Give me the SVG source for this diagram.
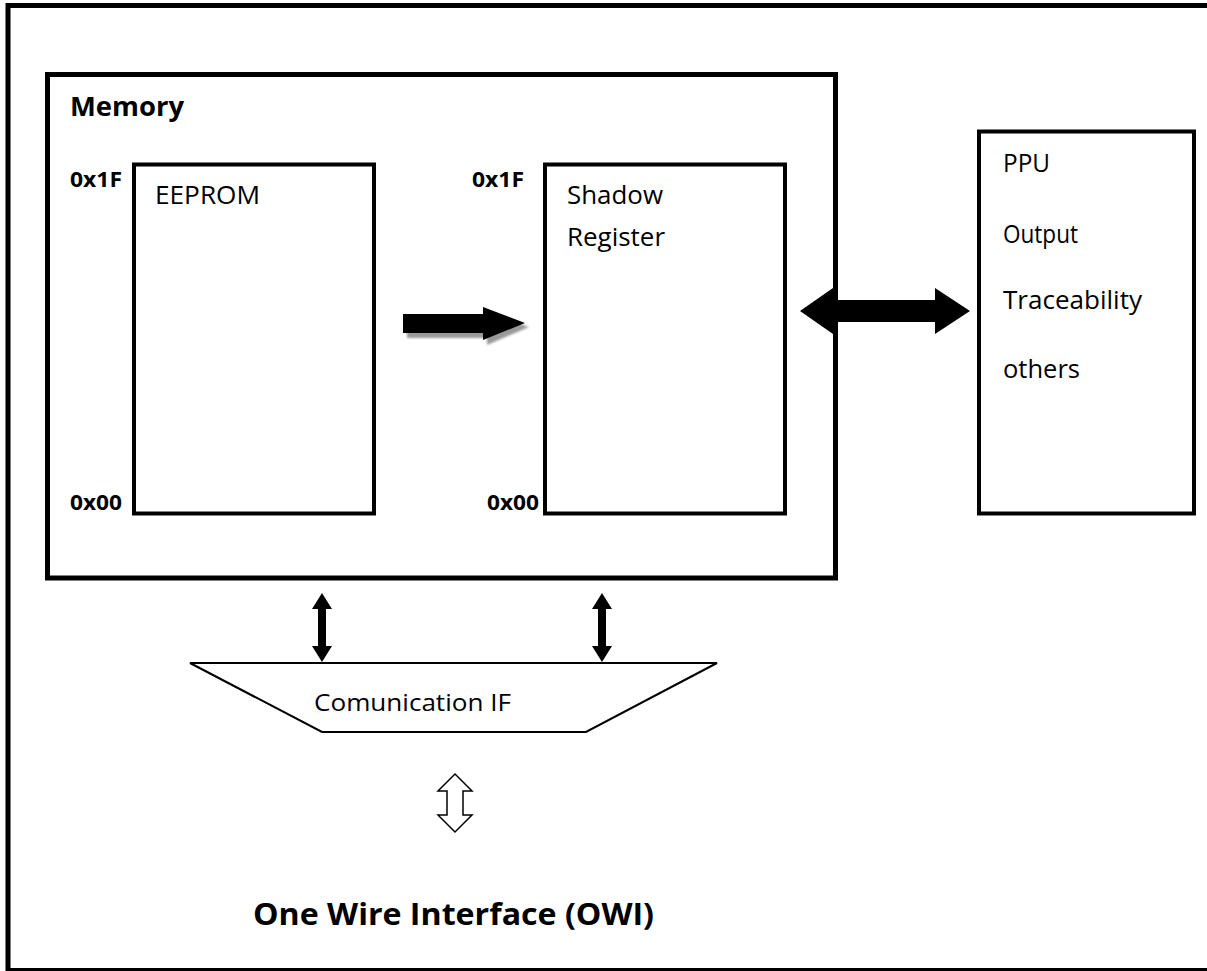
<svg xmlns="http://www.w3.org/2000/svg" width="1207" height="971" viewBox="0 0 1207 971">
  <style>
    .box { fill: #fff; stroke: #000; }
    .t { font-family: "Open Sans", "Liberation Sans", sans-serif; fill: #000; }
    .b { font-weight: bold; }
  </style>
  <defs>
    <filter id="sh" x="-20%" y="-50%" width="140%" height="200%">
      <feGaussianBlur stdDeviation="1"/>
    </filter>
  </defs>
  <rect width="1207" height="971" fill="#fff"/>
  <g id="frame">
    <rect x="8" y="5.5" width="1212" height="965" fill="none" stroke="#000" stroke-width="5"/>
  </g>
  <g id="memory">
    <rect class="box" x="47.5" y="74.5" width="788" height="503.5" stroke-width="5"/>
    <text class="t b" x="70" y="116" font-size="27" textLength="114" lengthAdjust="spacingAndGlyphs">Memory</text>
  </g>
  <g id="eeprom">
    <rect class="box" x="134" y="164.5" width="240" height="349" stroke-width="4"/>
    <text class="t" x="155" y="204" font-size="25" textLength="105" lengthAdjust="spacingAndGlyphs">EEPROM</text>
    <text class="t b" x="70" y="187" font-size="22" textLength="52" lengthAdjust="spacingAndGlyphs">0x1F</text>
    <text class="t b" x="70" y="510" font-size="22" textLength="52" lengthAdjust="spacingAndGlyphs">0x00</text>
  </g>
  <g id="shadow">
    <rect class="box" x="545" y="164.5" width="240" height="349" stroke-width="4"/>
    <text class="t" x="567" y="204" font-size="25" textLength="96" lengthAdjust="spacingAndGlyphs">Shadow</text>
    <text class="t" x="567" y="246" font-size="25" textLength="98" lengthAdjust="spacingAndGlyphs">Register</text>
    <text class="t b" x="472" y="187" font-size="22" textLength="52" lengthAdjust="spacingAndGlyphs">0x1F</text>
    <text class="t b" x="487" y="510" font-size="22" textLength="52" lengthAdjust="spacingAndGlyphs">0x00</text>
  </g>
  <g id="ppu">
    <rect class="box" x="979" y="131.5" width="215" height="382" stroke-width="4"/>
    <text class="t" x="1003" y="172" font-size="25" textLength="47" lengthAdjust="spacingAndGlyphs">PPU</text>
    <text class="t" x="1003" y="243" font-size="25" textLength="75" lengthAdjust="spacingAndGlyphs">Output</text>
    <text class="t" x="1003" y="309" font-size="25" textLength="139" lengthAdjust="spacingAndGlyphs">Traceability</text>
    <text class="t" x="1003" y="378" font-size="25" textLength="77" lengthAdjust="spacingAndGlyphs">others</text>
  </g>
  <g id="comif">
    <polygon points="190,663 717,663 586,732 322,732" fill="#fff" stroke="#000" stroke-width="2"/>
    <text class="t" x="314" y="711" font-size="24" textLength="197" lengthAdjust="spacingAndGlyphs">Comunication IF</text>
  </g>
  <g id="owi">
    <text class="t b" x="253" y="925" font-size="31" textLength="401" lengthAdjust="spacingAndGlyphs">One Wire Interface (OWI)</text>
  </g>
  <g id="connectors">
    <polygon points="407,319 487,319 487,312 529,327 487,345 487,338 407,338" fill="#999" filter="url(#sh)"/>
    <polygon points="403,314 483,314 483,307 525,323 483,340 483,333 403,333" fill="#000"/>
    <polygon points="800,311 833,288 833,300 935,300 935,288 970,311 935,334 935,322 833,322 833,334" fill="#000"/>
    <polygon points="322,593 332,609 326,609 326,646 332,646 322,662 312,646 318,646 318,609 312,609" fill="#000"/>
    <polygon points="602,593 612,609 606,609 606,646 612,646 602,662 592,646 598,646 598,609 592,609" fill="#000"/>
    <polygon points="455,774 472,791 463,791 463,815 472,815 455,832 438,815 447,815 447,791 438,791" fill="#fff" stroke="#000" stroke-width="1.5"/>
  </g>
</svg>
